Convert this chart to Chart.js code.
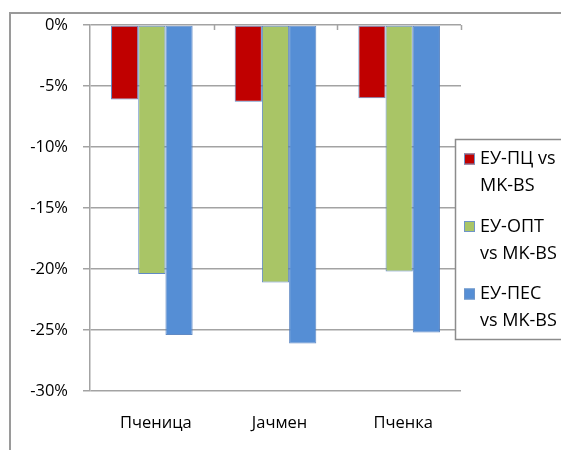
<!DOCTYPE html>
<html>
<head>
<meta charset="utf-8">
<script src="https://cdn.jsdelivr.net/npm/chart.js@4/dist/chart.umd.min.js"></script>
<style>
  html, body { margin: 0; padding: 0; background: #fff; }
  #wrap { width: 561px; height: 450px; }
</style>
</head>
<body>
<div id="wrap"><canvas id="c" width="561" height="450"></canvas></div>
<script>
// Categories (crops)
const categories = ['Пченица', 'Јачмен', 'Пченка'];

// Series names, and how each one wraps in the legend
const seriesNames = ['ЕУ-ПЦ vs MK-BS', 'ЕУ-ОПТ vs MK-BS', 'ЕУ-ПЕС vs MK-BS'];
const legendLines = [['ЕУ-ПЦ vs', 'MK-BS'], ['ЕУ-ОПТ', 'vs MK-BS'], ['ЕУ-ПЕС', 'vs MK-BS']];

// Change in percent
const euPc  = [-6.1, -6.3, -6.0];
const euOpt = [-20.4, -21.1, -20.2];
const euPes = [-25.4, -26.1, -25.2];

// Value axis
const yMin = -30;
const yMax = 0;
const yStep = 5;

const colors = ['#C00000', '#A9C566', '#558ED5'];
const FONT = "'Open Sans', 'DejaVu Sans', sans-serif";
const GRID = '#a3a3a3';

// Frame around the chart and small category ticks on the zero line
const framePlugin = {
  id: 'frame',
  beforeDraw(chart) {
    const ctx = chart.ctx;
    ctx.save();
    ctx.strokeStyle = '#9a9a9a';
    ctx.lineWidth = 2;
    ctx.beginPath();
    ctx.moveTo(10, 450);
    ctx.lineTo(10, 13);
    ctx.lineTo(561, 13);
    ctx.stroke();
    ctx.restore();
  },
  afterDatasetsDraw(chart) {
    const ctx = chart.ctx;
    const xs = chart.scales.x;
    const y0 = chart.scales.y.getPixelForValue(0);
    ctx.save();
    ctx.strokeStyle = GRID;
    ctx.lineWidth = 1.5;
    ctx.beginPath();
    for (let i = 1; i <= categories.length; i++) {
      const x = Math.round(xs.getPixelForValue(i - 0.5)) + 0.5;
      ctx.moveTo(x, y0);
      ctx.lineTo(x, y0 + 5);
    }
    ctx.stroke();
    ctx.restore();
  }
};

// Boxed legend with wrapped labels, on the right side of the plot
const legendPlugin = {
  id: 'boxLegend',
  afterDraw(chart) {
    const ctx = chart.ctx;
    const left = 455.5, top = 139.5, right = 575, bottom = 339.5;
    ctx.save();
    ctx.fillStyle = '#fff';
    ctx.fillRect(left, top, right - left, bottom - top);
    ctx.strokeStyle = '#8c8c8c';
    ctx.lineWidth = 1.5;
    ctx.strokeRect(left, top, right - left, bottom - top);

    ctx.font = '18px ' + FONT;
    ctx.fillStyle = '#000';
    ctx.textBaseline = 'middle';
    ctx.textAlign = 'left';
    const firstY = 159;
    const itemGap = 67.5;
    const lineGap = 27;
    chart.data.datasets.forEach((ds, i) => {
      const y = firstY + i * itemGap;
      ctx.fillStyle = ds.backgroundColor;
      ctx.fillRect(464, y - 5.5, 11, 11);
      ctx.strokeStyle = '#6f95c8';
      ctx.lineWidth = 1;
      ctx.strokeRect(464.5, y - 5, 10, 10);
      ctx.fillStyle = '#000';
      legendLines[i].forEach((t, k) => ctx.fillText(t, 480, y + k * lineGap));
    });
    ctx.restore();
  }
};

new Chart(document.getElementById('c'), {
  type: 'bar',
  data: {
    labels: categories,
    datasets: [
      { label: seriesNames[0], data: euPc,  backgroundColor: colors[0] },
      { label: seriesNames[1], data: euOpt, backgroundColor: colors[1] },
      { label: seriesNames[2], data: euPes, backgroundColor: colors[2] }
    ].map(d => Object.assign(d, {
      borderColor: 'rgba(80,125,190,0.9)',
      borderWidth: 1,
      borderSkipped: false,
      categoryPercentage: 0.66,
      barPercentage: 1.0
    }))
  },
  options: {
    responsive: false,
    animation: false,
    devicePixelRatio: 1,
    layout: { padding: { left: 0, top: 25, right: 100, bottom: 0 } },
    plugins: {
      legend: { display: false },
      tooltip: { enabled: false }
    },
    scales: {
      x: {
        grid: { display: false, drawTicks: false },
        border: { display: false },
        ticks: {
          color: '#000',
          font: { family: FONT, size: 16.5 },
          padding: 22,
          labelOffset: 4,
          maxRotation: 0
        },
        afterFit(s) { s.height = 59; }
      },
      y: {
        min: yMin,
        max: yMax,
        grid: { color: GRID, lineWidth: 1.5, tickLength: 7, drawTicks: true },
        border: { color: GRID, width: 1.5 },
        ticks: {
          stepSize: yStep,
          color: '#000',
          font: { family: FONT, size: 16.5 },
          padding: 15,
          callback: v => v + '%'
        },
        afterFit(s) { s.width = 90; }
      }
    }
  },
  plugins: [framePlugin, legendPlugin]
});
</script>
</body>
</html>
